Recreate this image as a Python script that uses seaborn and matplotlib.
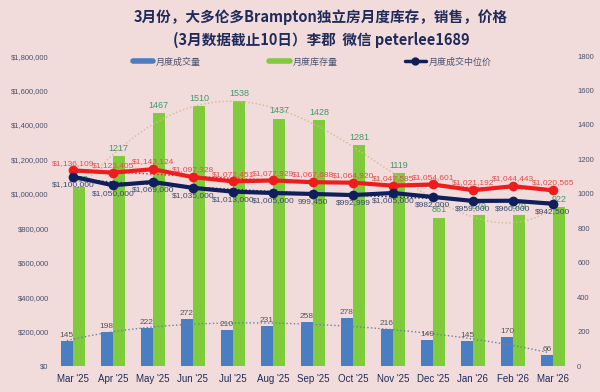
import numpy as np
import pandas as pd
import matplotlib
matplotlib.use("Agg")
import matplotlib.pyplot as plt
import seaborn as sns
from matplotlib.lines import Line2D
from matplotlib.ticker import FuncFormatter

sns.set_theme(style="white")
plt.rcParams['font.family'] = ['Noto Sans CJK SC', 'DejaVu Sans']

BG = '#F2DCDB'
NAVY = '#1F2B5B'
NARROW = ['Liberation Sans Narrow', 'Liberation Sans']

# data
months = ["Mar '25", "Apr '25", "May '25", "Jun '25", "Jul '25", "Aug '25", "Sep '25",
          "Oct '25", "Nov '25", "Dec '25", "Jan '26", "Feb '26", "Mar '26"]
sales = [145, 198, 222, 272, 210, 231, 258, 278, 216, 149, 145, 170, 66]
inventory = [1038, 1217, 1467, 1510, 1538, 1437, 1428, 1281, 1119, 861, 879, 879, 922]
avg_price = [1136109, 1123405, 1143124, 1097328, 1072451, 1077929, 1067688,
             1064920, 1047585, 1054601, 1021192, 1044443, 1020565]
median_price = [1100000, 1050000, 1069000, 1035000, 1013000, 1005000, 999450,
                992999, 1005000, 982000, 959000, 960000, 942500]

df = pd.DataFrame({'month': months * 2,
                   'value': sales + inventory,
                   'series': ['月度成交量'] * 13 + ['月度库存量'] * 13})
x = np.arange(len(months))

fig = plt.figure(figsize=(6, 3.92), dpi=100, facecolor=BG)
ax = fig.add_axes([0.088, 0.066, 0.867, 0.791])
ax2 = ax.twinx()
ax.set_zorder(ax2.get_zorder() + 1)
ax.patch.set_visible(False)
ax2.set_facecolor(BG)

# bars on the right axis
sns.barplot(data=df, x='month', y='value', hue='series', palette=['#4A7EC2', '#7FCB3C'],
            width=0.6, saturation=1, linewidth=0, edgecolor='none', ax=ax2, legend=False)
ax2.set_ylim(0, 1800)
ax2.set_xlim(-0.5, 12.5)
ax2.set_yticks(range(0, 1801, 200))

for i, v in enumerate(sales):
    ax2.text(i - 0.15, v + 12, str(v), ha='center', va='bottom', fontsize=6,
             color='#555555', family=NARROW)
for i, v in enumerate(inventory):
    ax2.text(i + 0.15, v + 20, str(v), ha='center', va='bottom', fontsize=6.5,
             color='#3F9A6A', family=NARROW)

# trendlines
xs = np.linspace(0, 12, 200)
ax2.plot(xs + 0.15, np.polyval(np.polyfit(x, inventory, 4), xs), ls=':', lw=1, color='#D8B894')
ax2.plot(xs - 0.15, np.polyval(np.polyfit(x, sales, 4), xs), ls=':', lw=1, color='#6A7FA8')

# price lines on the left axis
ax.plot(xs, np.polyval(np.polyfit(x, avg_price, 2), xs), ls=':', lw=1, color='#E02020')
ax.plot(xs, np.polyval(np.polyfit(x, median_price, 2), xs), ls=':', lw=1, color=NAVY)
sns.lineplot(x=x, y=avg_price, color='#EE1C1C', lw=3, marker='o', markersize=7,
             markeredgewidth=0, ax=ax)
sns.lineplot(x=x, y=median_price, color='#0E1F5B', lw=3, marker='o', markersize=7,
             markeredgewidth=0, ax=ax)
for i, v in enumerate(avg_price):
    ax.text(i, v + 22000, f'${v:,}', ha='center', va='bottom', fontsize=6,
            color='#E84A4A', family=NARROW)
for i, v in enumerate(median_price):
    lab = f'{v:,}' if i == 6 else f'${v:,}'
    ax.text(i, v - 25000, lab, ha='center', va='top', fontsize=6,
            color='#3C4A6E', family=NARROW)

ax.set_ylim(0, 1800000)
ax.set_xlim(-0.5, 12.5)
ax.set_yticks(range(0, 1800001, 200000))
ax.yaxis.set_major_formatter(FuncFormatter(lambda v, p: f'${v:,.0f}'))
ax.set_xticks(x)
ax.set_xticklabels(months)

for a in (ax, ax2):
    for s in a.spines.values():
        s.set_visible(False)
    a.set_xlabel('')
    a.set_ylabel('')
    a.tick_params(length=0, pad=3)
    a.grid(False)
ax.tick_params(axis='x', labelsize=7, labelcolor=NAVY, pad=6)
ax2.tick_params(axis='x', labelbottom=False)
for t in ax.get_yticklabels() + ax2.get_yticklabels():
    t.set_fontsize(5.5)
    t.set_color('#4A5270')
    t.set_family(NARROW)
for t in ax.get_xticklabels():
    t.set_family(['Liberation Sans', 'DejaVu Sans'])

# title and legend
fig.text(0.535, 0.957, '3月份，大多伦多Brampton独立房月度库存，销售，价格', ha='center', va='center',
         fontsize=10.5, fontweight='bold', color=NAVY)
fig.text(0.535, 0.898, '(3月数据截止10日）李郡  微信 peterlee1689', ha='center', va='center',
         fontsize=10.5, fontweight='bold', color=NAVY)
handles = [Line2D([], [], color='#4A7EC2', lw=4),
           Line2D([], [], color='#7FCB3C', lw=4),
           Line2D([], [], color='#0E1F5B', lw=2.5, marker='o', markersize=5)]
leg = fig.legend(handles, ['月度成交量', '月度库存量', '月度成交中位价'], loc='center',
                 bbox_to_anchor=(0.52, 0.842), ncol=3, frameon=False, fontsize=6.5,
                 handlelength=2.3, handletextpad=0.3, columnspacing=7.5)
for t in leg.get_texts():
    t.set_color('#4A5270')

fig.savefig('out.png', dpi=100, facecolor=BG)
